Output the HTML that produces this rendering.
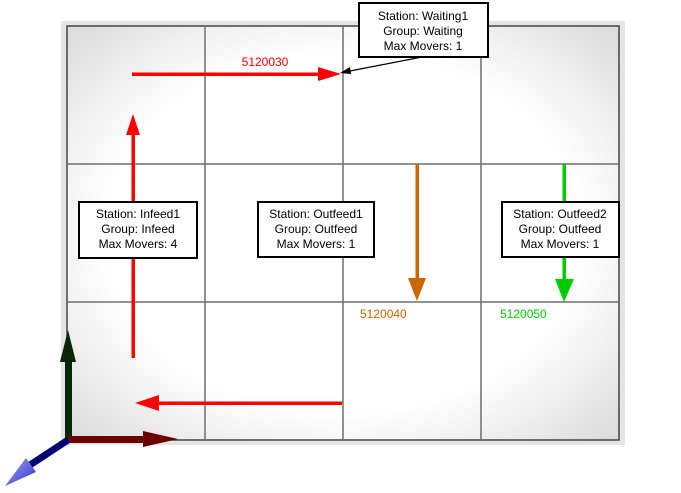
<!DOCTYPE html>
<html><head><style>
html,body{margin:0;padding:0;background:#fff;}
svg{display:block;}
text{font-family:"Liberation Sans",sans-serif;}
</style></head><body>
<svg width="681" height="493" viewBox="0 0 681 493" xmlns="http://www.w3.org/2000/svg">
<defs>
<radialGradient id="bg" cx="0.5" cy="0.5" r="0.72">
<stop offset="0.6" stop-color="#ffffff"/>
<stop offset="1" stop-color="#d8d8d8"/>
</radialGradient>
<linearGradient id="cone" x1="0" y1="0" x2="1" y2="1">
<stop offset="0" stop-color="#9fa8ff"/><stop offset="1" stop-color="#3030c0"/>
</linearGradient>
</defs>
<rect x="61" y="21" width="564" height="424" fill="#e4e4e4"/>
<rect x="66" y="25" width="554" height="416" fill="url(#bg)"/>
<g stroke="#6e6e6e" stroke-width="1.5" fill="none">
<rect x="67" y="26" width="552" height="414" stroke="#444"/>
<line x1="205" y1="26" x2="205" y2="440"/>
<line x1="343" y1="26" x2="343" y2="440"/>
<line x1="481" y1="26" x2="481" y2="440"/>
<line x1="67" y1="164" x2="619" y2="164"/>
<line x1="67" y1="302" x2="619" y2="302"/>
</g>
<!-- red arrows -->
<g fill="red" stroke="none">
<rect x="132" y="72.5" width="190" height="3.5"/>
<polygon points="318,67 341,74 318,81"/>
<rect x="131.5" y="132" width="3.5" height="226"/>
<polygon points="126,135 133,114 140,135"/>
<rect x="156" y="401.5" width="186" height="3.5"/>
<polygon points="159,395 135,403 159,411"/>
</g>
<text x="265" y="66" font-size="12" fill="red" text-anchor="middle">5120030</text>
<!-- orange -->
<rect x="415.5" y="164" width="3.5" height="116" fill="#cc6600"/>
<polygon points="408,278 426,278 417,301" fill="#cc6600"/>
<text x="360" y="318" font-size="12" fill="#cc6600">5120040</text>
<!-- green -->
<rect x="562.5" y="164" width="3.5" height="116" fill="#00cc00"/>
<polygon points="555,279 574,279 564,302" fill="#00cc00"/>
<text x="500" y="318" font-size="12" fill="#00cc00">5120050</text>
<!-- callout -->
<line x1="422" y1="57" x2="345" y2="72" stroke="#000" stroke-width="1.2"/>
<polygon points="340,73 350,67 351,74" fill="#000"/>
<!-- boxes -->
<g fill="#fff" stroke="#000" stroke-width="2">
<rect x="359" y="3" width="129" height="54"/>
<rect x="79" y="202" width="118" height="56"/>
<rect x="258" y="202" width="116" height="55"/>
<rect x="502" y="202" width="117" height="55"/>
</g>
<g font-size="12" fill="#000" text-anchor="middle">
<text x="423" y="20">Station: Waiting1</text>
<text x="423" y="35">Group: Waiting</text>
<text x="423" y="50">Max Movers: 1</text>
<text x="138" y="218">Station: Infeed1</text>
<text x="138" y="233">Group: Infeed</text>
<text x="138" y="248">Max Movers: 4</text>
<text x="316" y="218">Station: Outfeed1</text>
<text x="316" y="233">Group: Outfeed</text>
<text x="316" y="248">Max Movers: 1</text>
<text x="560" y="218">Station: Outfeed2</text>
<text x="560" y="233">Group: Outfeed</text>
<text x="560" y="248">Max Movers: 1</text>
</g>
<!-- axes -->
<rect x="65" y="358" width="7" height="82" fill="#0a260a"/>
<polygon points="60,362 68,330 76,362" fill="#0a260a"/>
<rect x="68" y="436" width="78" height="7" fill="#6a0000"/>
<polygon points="143,431 178,439 143,447" fill="#6a0000"/>
<line x1="68" y1="440" x2="30" y2="465" stroke="#000070" stroke-width="7"/>
<polygon points="5,486 26,458 36,472" fill="url(#cone)"/>
</svg>
</body></html>
